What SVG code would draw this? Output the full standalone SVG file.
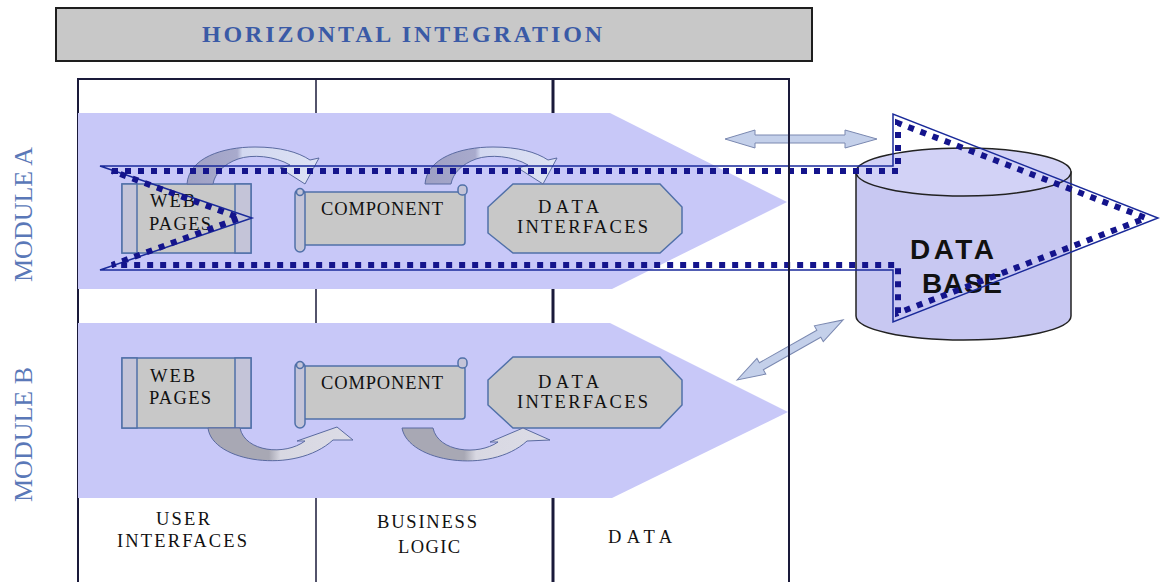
<svg xmlns="http://www.w3.org/2000/svg" width="1160" height="582" viewBox="0 0 1160 582">
<defs>
<style>
.lbl{font-family:"Liberation Serif","Times New Roman",serif;font-size:18.5px;fill:#111}
.mod{font-family:"Liberation Serif","Times New Roman",serif;font-size:26px;fill:#5a78b8}
.box{fill:#c8c8c8;stroke:#5070a8;stroke-width:1.5}
.side{fill:#c4c4d8;stroke:#5070a8;stroke-width:1.5}
.band{fill:#c8c8f8}
.col{stroke:#1a1a3a;fill:none}
.dbl{fill:#c4d0ea;stroke:#7a88b0;stroke-width:1}
.db{font-family:"Liberation Sans",Arial,sans-serif;font-weight:bold;font-size:28px;fill:#111}
</style>
<linearGradient id="gA" x1="0" y1="0" x2="1" y2="0">
<stop offset="0" stop-color="#9ea0c4"/><stop offset="0.38" stop-color="#a8aacc"/><stop offset="0.42" stop-color="#d2d8f0"/><stop offset="1" stop-color="#dde2f4"/>
</linearGradient>
<linearGradient id="gB" x1="0" y1="0" x2="1" y2="0">
<stop offset="0" stop-color="#a8a8b4"/><stop offset="0.42" stop-color="#a8a8b4"/><stop offset="0.5" stop-color="#d8d8e2"/><stop offset="1" stop-color="#dcdce6"/>
</linearGradient>
</defs>
<rect width="1160" height="582" fill="#ffffff"/>

<g id="title">
<rect x="56" y="8" width="756" height="53" fill="#c8c8c8" stroke="#1e1e1e" stroke-width="2"/>
<text x="202" y="42" textLength="400" lengthAdjust="spacing" style="font-family:'Liberation Serif','Times New Roman',serif;font-size:24px;font-weight:bold;fill:#3a5aa6">HORIZONTAL INTEGRATION</text>
</g>

<g id="table">
<path class="col" stroke-width="2" d="M77,79 H790 M78,79 V582"/>
<path class="col" stroke-width="1.5" d="M316,79 V582"/>
<path class="col" stroke-width="3" d="M553,79 V582"/>
</g>

<g id="module-a-band">
<polygon class="band" points="78,113 610,113 787,202 612,289 78,289"/>
</g>
<g id="module-b-band">
<polygon class="band" points="78,323 610,323 788,412 612,498 78,498"/>
</g>

<g id="module-labels">
<text class="mod" transform="translate(32,214.5) rotate(-90)" text-anchor="middle" textLength="135" lengthAdjust="spacingAndGlyphs">MODULE A</text>
<text class="mod" transform="translate(32,434.5) rotate(-90)" text-anchor="middle" textLength="135" lengthAdjust="spacingAndGlyphs">MODULE B</text>
</g>

<g id="web-pages-a">
<rect class="box" x="122" y="184" width="129" height="69"/>
<rect class="side" x="122" y="184" width="15" height="69"/>
<rect class="side" x="235" y="184" width="16" height="69"/>
<text class="lbl" x="150" y="207" textLength="45" lengthAdjust="spacing">WEB</text>
<text class="lbl" x="149" y="230" textLength="62" lengthAdjust="spacing">PAGES</text>
</g>
<g id="component-a">
<rect class="box" x="303" y="192" width="162" height="53" rx="3"/>
<rect class="side" x="458" y="185" width="9" height="10" rx="4"/>
<rect class="side" x="295" y="189" width="10" height="63" rx="5"/>
<circle class="side" cx="300" cy="192" r="3.5"/>
<text class="lbl" x="321" y="215" textLength="122" lengthAdjust="spacing">COMPONENT</text>
</g>
<g id="data-interfaces-a">
<polygon class="box" points="513,184 660,184 682,207 682,233 660,253 513,253 488,233 488,207"/>
<text class="lbl" x="538" y="213" textLength="61" lengthAdjust="spacing">DATA</text>
<text class="lbl" x="517" y="233" textLength="131" lengthAdjust="spacing">INTERFACES</text>
</g>

<g id="web-pages-b">
<rect class="box" x="122" y="358" width="129" height="70"/>
<rect class="side" x="122" y="358" width="15" height="70"/>
<rect class="side" x="235" y="358" width="16" height="70"/>
<text class="lbl" x="150" y="382" textLength="45" lengthAdjust="spacing">WEB</text>
<text class="lbl" x="149" y="404" textLength="62" lengthAdjust="spacing">PAGES</text>
</g>
<g id="component-b">
<rect class="box" x="303" y="366" width="162" height="53" rx="3"/>
<rect class="side" x="458" y="358" width="9" height="10" rx="4"/>
<rect class="side" x="295" y="362" width="10" height="66" rx="5"/>
<circle class="side" cx="300" cy="365" r="3.5"/>
<text class="lbl" x="321" y="389" textLength="122" lengthAdjust="spacing">COMPONENT</text>
</g>
<g id="data-interfaces-b">
<polygon class="box" points="513,357 660,357 682,380 682,405 660,428 513,428 488,405 488,380"/>
<text class="lbl" x="538" y="388" textLength="61" lengthAdjust="spacing">DATA</text>
<text class="lbl" x="517" y="408" textLength="131" lengthAdjust="spacing">INTERFACES</text>
</g>

<g id="column-labels">
<text class="lbl" x="156" y="525" textLength="54" lengthAdjust="spacing">USER</text>
<text class="lbl" x="117" y="547" textLength="130" lengthAdjust="spacing">INTERFACES</text>
<text class="lbl" x="377" y="528" textLength="100" lengthAdjust="spacing">BUSINESS</text>
<text class="lbl" x="398" y="553" textLength="62" lengthAdjust="spacing">LOGIC</text>
<text class="lbl" x="608" y="543" textLength="64" lengthAdjust="spacing">DATA</text>
</g>

<g id="database">
<path d="M856,172 V316 A107.5,24 0 0 0 1071,316 V172 Z" fill="#c8c8f2" stroke="#222" stroke-width="1.5"/>
<ellipse cx="963.5" cy="172" rx="107.5" ry="24" fill="#d2d2f6" stroke="#222" stroke-width="1.5"/>
<text class="db" x="910" y="259" textLength="84" lengthAdjust="spacing">DATA</text>
<text class="db" x="922" y="293" textLength="80" lengthAdjust="spacing">BASE</text>
</g>

<g id="connectors">
<path d="M187,184 C189,158 222,147 255,147 C280,147 298,152 310,160 L319,158 L305,184 L280,168 L290,165 C275,156 252,154 238,159 C224,164 215,173 213,184 Z" fill="url(#gA)" stroke="#5a6aa0" stroke-width="1"/>
<path transform="translate(238,0)" d="M187,184 C189,158 222,147 255,147 C280,147 298,152 310,160 L319,158 L305,184 L280,168 L290,165 C275,156 252,154 238,159 C224,164 215,173 213,184 Z" fill="url(#gA)" stroke="#5a6aa0" stroke-width="1"/>
<path d="M208,428 L240,428 C245,452 285,456 305,441 L297,441 L337,427 L353,440 L333,440 C295,475 212,462 208,428 Z" fill="url(#gB)" stroke="#5a6aa0" stroke-width="1"/>
<path d="M402,428 L433,428 C438,452 478,456 498,442 L490,442 L523,428 L550,440 L527,441 C490,475 408,462 402,428 Z" fill="url(#gB)" stroke="#5a6aa0" stroke-width="1"/>
<path class="dbl" d="M725,139 L755,130 L755,135 L845,135 L845,130 L877,139 L845,148 L845,143 L755,143 L755,148 Z"/>
<path class="dbl" transform="translate(737,380) rotate(-29.5)" d="M0,0 L28,-9 L28,-4 L94,-4 L94,-9 L122,0 L94,9 L94,4 L28,4 L28,9 Z"/>
<polygon points="100,166 893,166 893,114 1158,218 893,322 893,270 100,270 252,218" fill="none" stroke="#1a2a9a" stroke-width="1.5"/>
<polygon points="112,171 898,171 898,123 1146,218 898,313 898,265 112,265 240,218" fill="none" stroke="#14148c" stroke-width="6" stroke-dasharray="6 7"/>
</g>

<g id="table-right">
<path class="col" stroke-width="2" d="M789,79 V582"/>
</g>
</svg>
